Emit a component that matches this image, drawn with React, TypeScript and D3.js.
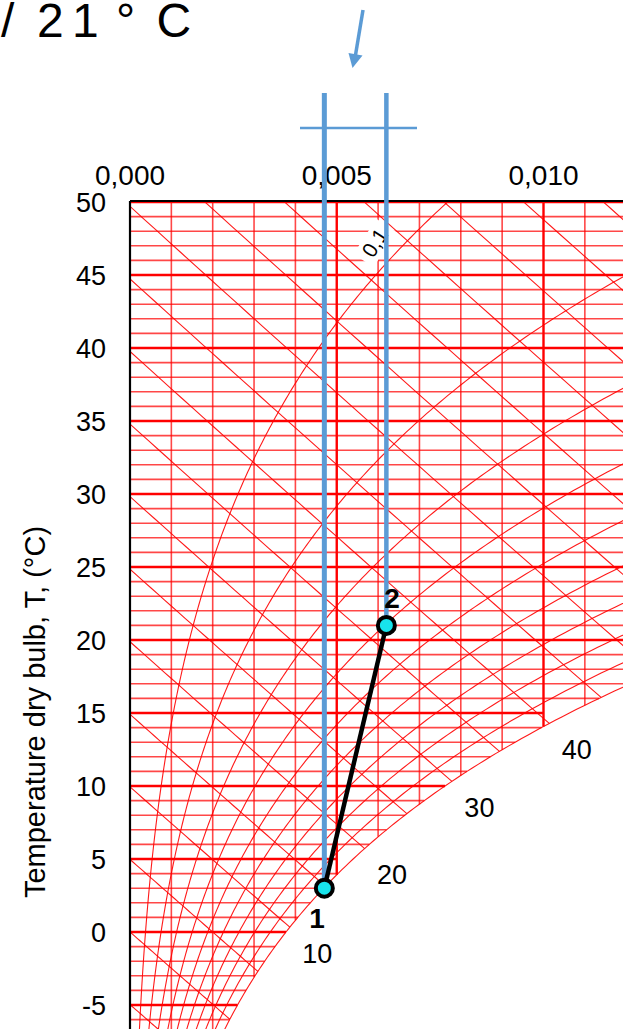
import React from 'react';
import * as d3 from 'd3';

// ---------- data ----------
const P_ATM = 101.325; // kPa
const yTickValues = [-5, 0, 5, 10, 15, 20, 25, 30, 35, 40, 45, 50];
const xTickValues = [0, 0.005, 0.01];
const xTickLabels = ['0,000', '0,005', '0,010'];
const isotherms = d3.range(-7, 51, 1); // °C grid
const isoHumidity = [0.001, 0.002, 0.003, 0.004, 0.005, 0.006, 0.007, 0.008, 0.009, 0.01, 0.011, 0.012];
const rhValues = [0.1, 0.2, 0.3, 0.4, 0.5, 0.6, 0.7, 0.8, 0.9, 1.0];
const enthalpyValues = [-10, -5, 0, 5, 10, 15, 20, 25, 30, 35, 40, 45, 50, 55, 60, 65, 70, 75, 80, 85];
const enthalpyLabels = [10, 20, 30, 40];
const processPoints = [
  { id: '1', x: 0.0047, t: 3 },
  { id: '2', x: 0.0062, t: 21 },
];

// ---------- psychrometrics ----------
const ps = (t: number) => 0.61094 * Math.exp((17.625 * t) / (t + 243.04));
const xAt = (t: number, phi: number) => {
  const p = phi * ps(t);
  return (0.622 * p) / (P_ATM - p);
};
const enth = (t: number, x: number) => 1.006 * t + x * (2501 + 1.86 * t);
const bisect = (f: (v: number) => number, lo: number, hi: number) => {
  let a = lo, b = hi;
  for (let i = 0; i < 60; i++) {
    const m = (a + b) / 2;
    if (f(a) * f(m) <= 0) b = m; else a = m;
  }
  return (a + b) / 2;
};
const tDew = (x: number) => bisect((t) => xAt(t, 1) - x, -40, 80);
const tSatH = (h: number) => bisect((t) => enth(t, xAt(t, 1)) - h, -40, 80);

// ---------- layout ----------
const W = 623, H = 1029;
const X0 = 130, YTOP = 202;
const PX_PER_X = 41350; // px per unit humidity ratio
const PX_PER_T = 14.6;

const xS = d3.scaleLinear().domain([0, 0.012]).range([X0, X0 + 0.012 * PX_PER_X]);
const yS = d3.scaleLinear().domain([-7, 50]).range([YTOP + 57 * PX_PER_T, YTOP]);

const line = d3.line<[number, number]>().x((d) => xS(d[0])).y((d) => yS(d[1]));

const RED = '#ff0000';
const BLUE = '#5b9bd5';
const FONT = "'Liberation Sans', Arial, sans-serif";

export default function App() {
  const tSample = d3.range(-9, 52, 0.25);

  const thinIso = isotherms.filter((t) => t % 5 !== 0);
  const thickIso = isotherms.filter((t) => t % 5 === 0);
  const thickEnd = (t: number) => {
    const xs = xAt(t, 1);
    const f = Math.floor(xs / 0.005) * 0.005;
    return f > 0 && xs - f < 0.001 ? f : xs;
  };
  const thinVert = isoHumidity.filter((x) => Math.abs(x / 0.005 - Math.round(x / 0.005)) > 1e-6);
  const thickVert = isoHumidity.filter((x) => Math.abs(x / 0.005 - Math.round(x / 0.005)) <= 1e-6);

  const enthPath = (h: number) => {
    const tEnd = tSatH(h);
    const xEnd = xAt(tEnd, 1);
    const pts: [number, number][] = d3.range(0, 41).map((i) => {
      const x = (xEnd * i) / 40;
      return [x, (h - 2501 * x) / (1.006 + 1.86 * x)];
    });
    return line(pts) || '';
  };
  const rhPath = (phi: number) => line(tSample.map((t) => [xAt(t, phi), t] as [number, number])) || '';

  const p1 = processPoints[0], p2 = processPoints[1];

  return (
    <svg width={W} height={H} style={{ position: 'absolute', left: 0, top: 0, background: '#fff' }}>
      <defs>
        <clipPath id="plot">
          <rect x={X0} y={YTOP} width={600} height={900} />
        </clipPath>
      </defs>

      <g clipPath="url(#plot)" fill="none">
        {thinIso.map((t) => (
          <line key={'ti' + t} x1={xS(0)} x2={xS(xAt(t, 1))} y1={yS(t)} y2={yS(t)}
            stroke={RED} strokeWidth={1.6} strokeOpacity={0.72} />
        ))}
        {thinVert.map((x) => (
          <line key={'tv' + x} x1={xS(x)} x2={xS(x)} y1={yS(50)} y2={yS(tDew(x))}
            stroke={RED} strokeWidth={1.6} strokeOpacity={0.72} />
        ))}
        {enthalpyValues.map((h) => (
          <path key={'h' + h} d={enthPath(h)} stroke={RED} strokeWidth={1.1} strokeOpacity={0.9} />
        ))}
        {rhValues.map((phi) => (
          <path key={'rh' + phi} d={rhPath(phi)} stroke={RED} strokeWidth={1.1} strokeOpacity={0.9} />
        ))}
        {thickIso.map((t) => (
          <line key={'Ti' + t} x1={xS(0)} x2={xS(thickEnd(t))} y1={yS(t)} y2={yS(t)}
            stroke={RED} strokeWidth={2.6} />
        ))}
        {thickVert.map((x) => (
          <line key={'Tv' + x} x1={xS(x)} x2={xS(x)} y1={yS(50)} y2={yS(tDew(x))}
            stroke={RED} strokeWidth={2.4} />
        ))}
      </g>

      {/* axes */}
      <line x1={X0} x2={X0} y1={YTOP - 1} y2={H} stroke="#000" strokeWidth={2.2} />
      <line x1={X0} x2={W} y1={YTOP - 1} y2={YTOP - 1} stroke="#000" strokeWidth={2.2} />

      {/* RH label */}
      <g transform="translate(375,243) rotate(-57)">
        <rect x={-21} y={-12} width={42} height={24} fill="#fff" />
        <text x={0} y={7} textAnchor="middle" fontFamily={FONT} fontSize={21} fill="#000">0,1</text>
      </g>

      {/* enthalpy labels */}
      {enthalpyLabels.map((h) => {
        const t = tSatH(h);
        const cx = xS(xAt(t, 1)) + 27.5;
        const cy = yS(t) + 25.5;
        return (
          <text key={'hl' + h} x={cx} y={cy + 10} textAnchor="middle" fontFamily={FONT} fontSize={27} fill="#000">{h}</text>
        );
      })}

      {/* tick labels */}
      {xTickValues.map((v, i) => (
        <text key={'xt' + i} x={xS(v)} y={185} textAnchor="middle" fontFamily={FONT} fontSize={28} fill="#000">{xTickLabels[i]}</text>
      ))}
      {yTickValues.map((v) => (
        <text key={'yt' + v} x={106} y={yS(v) + 10} textAnchor="end" fontFamily={FONT} fontSize={27} fill="#000">{v}</text>
      ))}
      <text transform="translate(45,712) rotate(-90)" textAnchor="middle" fontFamily={FONT} fontSize={29} fill="#000">
        Temperature dry bulb, T, (°C)
      </text>

      {/* blue annotation lines */}
      <line x1={xS(p1.x)} x2={xS(p1.x)} y1={93} y2={yS(p1.t)} stroke={BLUE} strokeWidth={5} />
      <line x1={xS(p2.x)} x2={xS(p2.x)} y1={93} y2={yS(p2.t)} stroke={BLUE} strokeWidth={4.5} />
      <line x1={300} x2={417} y1={128} y2={128} stroke={BLUE} strokeWidth={2.5} />
      <line x1={363} x2={355.5} y1={10} y2={55} stroke={BLUE} strokeWidth={3.5} />
      <polygon points="348.5,53 362.5,55.5 352.5,68" fill={BLUE} />

      {/* process */}
      <line x1={xS(p1.x)} y1={yS(p1.t)} x2={xS(p2.x)} y2={yS(p2.t)} stroke="#000" strokeWidth={4.5} />
      {processPoints.map((p) => (
        <circle key={'pt' + p.id} cx={xS(p.x)} cy={yS(p.t)} r={8.5} fill="#18e4ec" stroke="#000" strokeWidth={4} />
      ))}
      <text x={317} y={928} textAnchor="middle" fontFamily={FONT} fontWeight="bold" fontSize={28} fill="#000">{p1.id}</text>
      <text x={392} y={608} textAnchor="middle" fontFamily={FONT} fontWeight="bold" fontSize={28} fill="#000">{p2.id}</text>

      {/* title fragment (cut at the top edge, as in the reference) */}
      <g fontFamily={FONT} fontSize={48} fill="#000">
        <text x={1} y={37}>/</text>
        <text x={37} y={37}>2</text>
        <text x={72} y={37}>1</text>
        <text x={116} y={37}>°</text>
        <text x={156.5} y={37}>C</text>
      </g>
    </svg>
  );
}
